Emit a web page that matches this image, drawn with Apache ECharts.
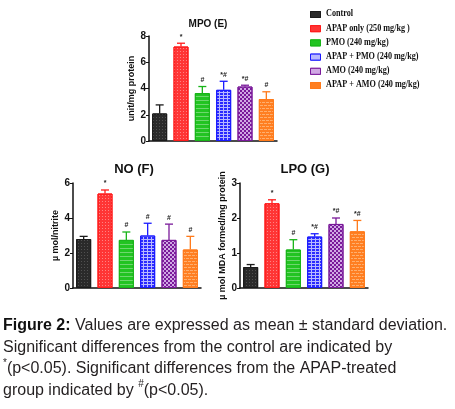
<!DOCTYPE html>
<html><head><meta charset="utf-8">
<script src="https://cdn.jsdelivr.net/npm/echarts@6/dist/echarts.min.js"></script>
<style>html,body{margin:0;padding:0;background:#fff}#c{width:455px;height:409px}</style>
</head><body><div id="c"></div>
<script>
var categories = ['Control','APAP only (250 mg/kg )','PMO (240 mg/kg)','APAP + PMO (240 mg/kg)','AMO (240 mg/kg)','APAP + AMO (240 mg/kg)'];
var mpoMean = [2.1, 7.2, 3.65, 3.9, 4.15, 3.2];
var mpoSD   = [0.65, 0.25, 0.5, 0.65, 0.1, 0.55];
var mpoMark = ['', '*', '#', '*#', '*#', '#'];
var noMean  = [2.8, 5.4, 2.75, 3.0, 2.75, 2.2];
var noSD    = [0.15, 0.2, 0.45, 0.7, 0.9, 0.75];
var noMark  = ['', '*', '#', '#', '#', '#'];
var lpoMean = [0.6, 2.42, 1.1, 1.47, 1.83, 1.62];
var lpoSD   = [0.07, 0.1, 0.28, 0.08, 0.17, 0.31];
var lpoMark = ['', '*', '#', '*#', '*#', '*#'];
var mpoTicks = [0, 2, 4, 6, 8];
var noTicks = [0, 2, 4, 6];
var lpoTicks = [0, 1, 2, 3];

var edge = ['#1a1a1a', '#ff1a1a', '#18b418', '#1a1aff', '#7a1a9a', '#ff7a1a'];
var styles = [
  {color: '#2a2a2a', decal: {symbol: 'rect', symbolSize: 1, color: 'rgba(90,90,90,0.8)', dashArrayX: [1, 2], dashArrayY: [1, 2]}},
  {color: '#ff3535', decal: {symbol: 'rect', symbolSize: 1, color: 'rgba(255,150,150,0.8)', dashArrayX: [1, 2], dashArrayY: [1, 2]}},
  {color: '#22c422', decal: {symbol: 'rect', symbolSize: 1, color: 'rgba(110,215,110,1)', dashArrayX: [1, 0], dashArrayY: [1, 3]}},
  {color: '#b8b8ff', decal: {symbol: 'rect', symbolSize: 1, color: '#2a2aff', dashArrayX: [3, 1], dashArrayY: [2, 1]}},
  {color: '#d0a8e4', decal: {symbol: 'rect', symbolSize: 1, color: '#7a1a9a', dashArrayX: [[2, 2], [0, 2, 2, 0]], dashArrayY: [2, 0]}},
  {color: '#ff7f22', decal: {symbol: 'rect', symbolSize: 1, color: 'rgba(255,175,110,1)', dashArrayX: [[3, 1], [1, 1, 2, 0]], dashArrayY: [1, 2]}}
];

var axFont = {fontFamily: 'Liberation Sans', fontWeight: 'bold', color: '#111', fontSize: 9};

function barData(means) {
  return means.map(function (v, i) {
    return {value: v, itemStyle: {color: styles[i].color, decal: styles[i].decal, borderColor: edge[i], borderWidth: 1}};
  });
}
function errSeries(idx, means, sds, marks) {
  return {
    type: 'custom', xAxisIndex: idx, yAxisIndex: idx, z: 5,
    data: means.map(function (m, i) { return [i, m, m + sds[i]]; }),
    renderItem: function (params, api) {
      var i = api.value(0);
      var pm = api.coord([i, api.value(1)]);
      var pt = api.coord([i, api.value(2)]);
      var col = edge[params.dataIndex];
      return {type: 'group', children: [
        {type: 'line', shape: {x1: pm[0], y1: pm[1], x2: pt[0], y2: pt[1]}, style: {stroke: col, lineWidth: 1.3}},
        {type: 'line', shape: {x1: pt[0] - 4, y1: pt[1], x2: pt[0] + 4, y2: pt[1]}, style: {stroke: col, lineWidth: 1.3}},
        {type: 'text', style: {text: marks[params.dataIndex], x: pt[0], y: pt[1] - 3, align: 'center', verticalAlign: 'bottom',
          font: 'bold 7px Liberation Sans', fill: '#222'}}
      ]};
    }
  };
}
function xAx(idx) {
  return {type: 'category', gridIndex: idx, data: categories,
    axisLine: {lineStyle: {color: '#111', width: 1.5}},
    axisTick: {alignWithLabel: true, length: 3, lineStyle: {color: '#111'}},
    axisLabel: {show: false}};
}
function yAx(idx, ticks, name, gap) {
  return {type: 'value', gridIndex: idx, min: ticks[0], max: ticks[ticks.length - 1], interval: ticks[1] - ticks[0],
    splitLine: {show: false},
    axisLine: {show: true, lineStyle: {color: '#111', width: 1.5}},
    axisTick: {show: true, length: 3, lineStyle: {color: '#111'}},
    axisLabel: Object.assign({margin: 3}, axFont, {fontSize: 10}),
    name: name, nameLocation: 'middle', nameGap: gap, nameRotate: 90,
    nameTextStyle: Object.assign({}, axFont, {fontSize: 9})};
}

var chart = echarts.init(document.getElementById('c'));
var legendGraphics = [];
categories.forEach(function (c, i) {
  legendGraphics.push({type: 'rect', left: 310, top: 11 + i * 14.2, shape: {width: 10, height: 6},
    style: {fill: styles[i].color, stroke: edge[i], lineWidth: 1, decal: styles[i].decal}});
  legendGraphics.push({type: 'text', x: 326, y: 9 + i * 14.2, scaleX: 0.86,
    style: {text: c, font: 'bold 9.5px Liberation Serif', fill: '#111'}});
});
legendGraphics.push({type: 'text', left: 3, top: 315,
  style: {
    text: '{b|Figure 2:} Values are expressed as mean \u00b1 standard deviation.\nSignificant differences from the control are indicated by\n{s|*}(p<0.05). Significant differences from the APAP-treated\ngroup indicated by {s|#}(p<0.05).',
    font: '16px Liberation Sans', fill: '#231f20', lineHeight: 21.5,
    rich: {
      b: {fontWeight: 'bold', fontSize: 16, fontFamily: 'Liberation Sans', fill: '#111', lineHeight: 21.5},
      s: {fontSize: 10, fontFamily: 'Liberation Sans', verticalAlign: 'top', lineHeight: 21.5, padding: [0, 0, 8, 0]}
    }
  }});

chart.setOption({
  animation: false,
  title: [
    {text: 'MPO (E)', left: 203, top: 14, textAlign: 'center', textStyle: {fontFamily: 'Liberation Sans', fontWeight: 'bold', fontSize: 10, color: '#111'}},
    {text: 'NO (F)', left: 129, top: 158, textAlign: 'center', textStyle: {fontFamily: 'Liberation Sans', fontWeight: 'bold', fontSize: 13, color: '#111'}},
    {text: 'LPO (G)', left: 300, top: 158, textAlign: 'center', textStyle: {fontFamily: 'Liberation Sans', fontWeight: 'bold', fontSize: 13, color: '#111'}}
  ],
  grid: [
    {left: 149, top: 36, width: 128, height: 105},
    {left: 73, top: 183, width: 128, height: 105},
    {left: 240, top: 183, width: 128, height: 105}
  ],
  xAxis: [xAx(0), xAx(1), xAx(2)],
  yAxis: [yAx(0, mpoTicks, 'unit/mg protein', 13), yAx(1, noTicks, '\u00b5 mol/nitrite', 13), yAx(2, lpoTicks, '\u00b5 mol MDA formed/mg protein', 13)],
  series: [
    {type: 'bar', xAxisIndex: 0, yAxisIndex: 0, barWidth: 15, data: barData(mpoMean)},
    {type: 'bar', xAxisIndex: 1, yAxisIndex: 1, barWidth: 15, data: barData(noMean)},
    {type: 'bar', xAxisIndex: 2, yAxisIndex: 2, barWidth: 15, data: barData(lpoMean)},
    errSeries(0, mpoMean, mpoSD, mpoMark),
    errSeries(1, noMean, noSD, noMark),
    errSeries(2, lpoMean, lpoSD, lpoMark)
  ],
  graphic: legendGraphics
});
</script></body></html>
